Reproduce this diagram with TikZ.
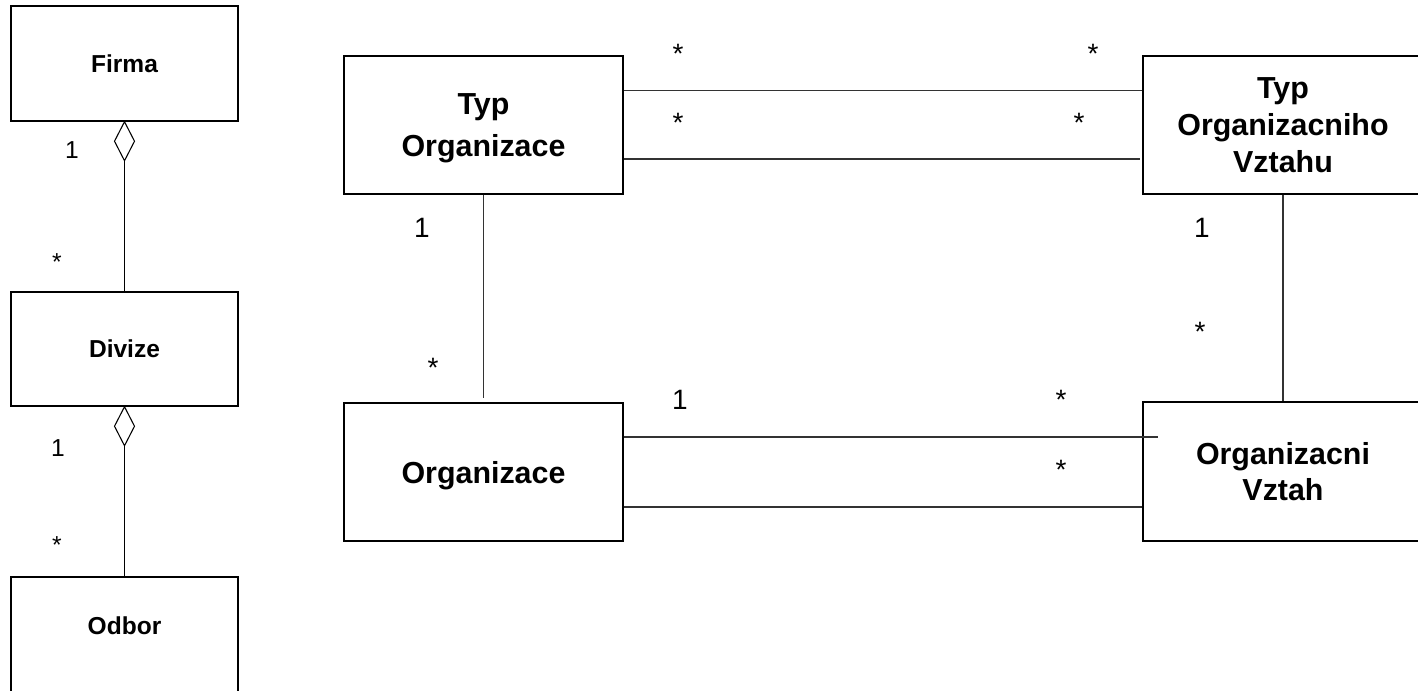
\documentclass[tikz,border=0pt]{standalone}
\usepackage{fontspec}
\setmainfont{Liberation Sans}
\usetikzlibrary{calc}
\begin{document}
\begin{tikzpicture}[x=0.75pt,y=-0.75pt,
  cls/.style={draw=black,line width=1.1pt,inner sep=0pt,align=center,text depth=0pt},
  bigcls/.style={cls,font=\fontsize{22.8}{27.5}\selectfont\bfseries},
  smallcls/.style={cls,font=\fontsize{18.4}{22}\selectfont\bfseries},
  conn/.style={draw=black!80,line width=0.8pt},
  lconn/.style={draw=black,line width=0.8pt},
  biglbl/.style={inner sep=0pt,font=\fontsize{21}{25}\selectfont},
  smalllbl/.style={inner sep=0pt,font=\fontsize{18.4}{22}\selectfont}]
\clip (0,0) rectangle (1418,691);
\useasboundingbox (0,0) rectangle (1418,691);
\fill[white] (0,0) rectangle (1418,691);

% left column
\node[smallcls,minimum width=227*0.75pt,minimum height=115*0.75pt] (firma) at (124.5,63.5) {Firma};
\node[smallcls,minimum width=227*0.75pt,minimum height=114*0.75pt] (divize) at (124.5,349) {Divize};
\node[smallcls,minimum width=227*0.75pt,minimum height=115*0.75pt] (odbor) at (124.5,634.5) {};
\node[smallcls,draw=none] (odbortxt) at (124.5,626) {Odbor};

\draw[lconn] (firma.south) -- ++(10,19.5) -- ++(-10,19.5) coordinate (d1b) -- ++(-10,-19.5) -- cycle;
\draw[lconn] (d1b) -- (divize.north);
\draw[lconn] (divize.south) -- ++(10,19.5) -- ++(-10,19.5) coordinate (d2b) -- ++(-10,-19.5) -- cycle;
\draw[lconn] (d2b) -- (odbor.north);

\node[smalllbl] (lf1) at (72,150) {1};
\node[smalllbl] (lf2) at (57,262) {*};
\node[smalllbl] (ld1) at (58,448) {1};
\node[smalllbl] (ld2) at (57,545) {*};

% main part
\node[bigcls,font=\fontsize{22.8}{31.5}\selectfont\bfseries,minimum width=279*0.75pt,minimum height=138*0.75pt] (typorg) at (483.5,125) {Typ\\Organizace};
\node[bigcls,minimum width=280*0.75pt,minimum height=138*0.75pt] (tov) at (1283,125) {Typ\\Organizacniho\\Vztahu};
\node[bigcls,minimum width=279*0.75pt,minimum height=138*0.75pt] (org) at (483.5,472) {Organizace};
\node[bigcls,font=\fontsize{22.8}{26.3}\selectfont\bfseries,minimum width=280*0.75pt,minimum height=139*0.75pt] (ov) at (1283,471.5) {Organizacni\\Vztah};

\draw[conn] (typorg.east |- 0,90.5) -- (tov.west |- 0,90.5);
\draw[conn] (typorg.east |- 0,159) -- ($(tov.west |- 0,159)+(-2,0)$);
\draw[conn] (typorg.south) -- ($(org.north)+(0,-4)$);
\draw[conn] (tov.south) -- (ov.north);
\draw[conn] (org.east |- 0,437) -- ($(ov.west |- 0,437)+(16,0)$);
\draw[conn] (org.east |- 0,507) -- (ov.west |- 0,507);

\node[biglbl] (m1) at (678,54) {*};
\node[biglbl] (m2) at (678,123) {*};
\node[biglbl] (m3) at (1093,54) {*};
\node[biglbl] (m4) at (1079,123) {*};
\node[biglbl] (m5) at (422,228) {1};
\node[biglbl] (m6) at (433,368) {*};
\node[biglbl] (m7) at (1202,228) {1};
\node[biglbl] (m8) at (1200,332) {*};
\node[biglbl] (m9) at (680,400) {1};
\node[biglbl] (m10) at (1061,400) {*};
\node[biglbl] (m11) at (1061,470) {*};
\end{tikzpicture}
\end{document}
